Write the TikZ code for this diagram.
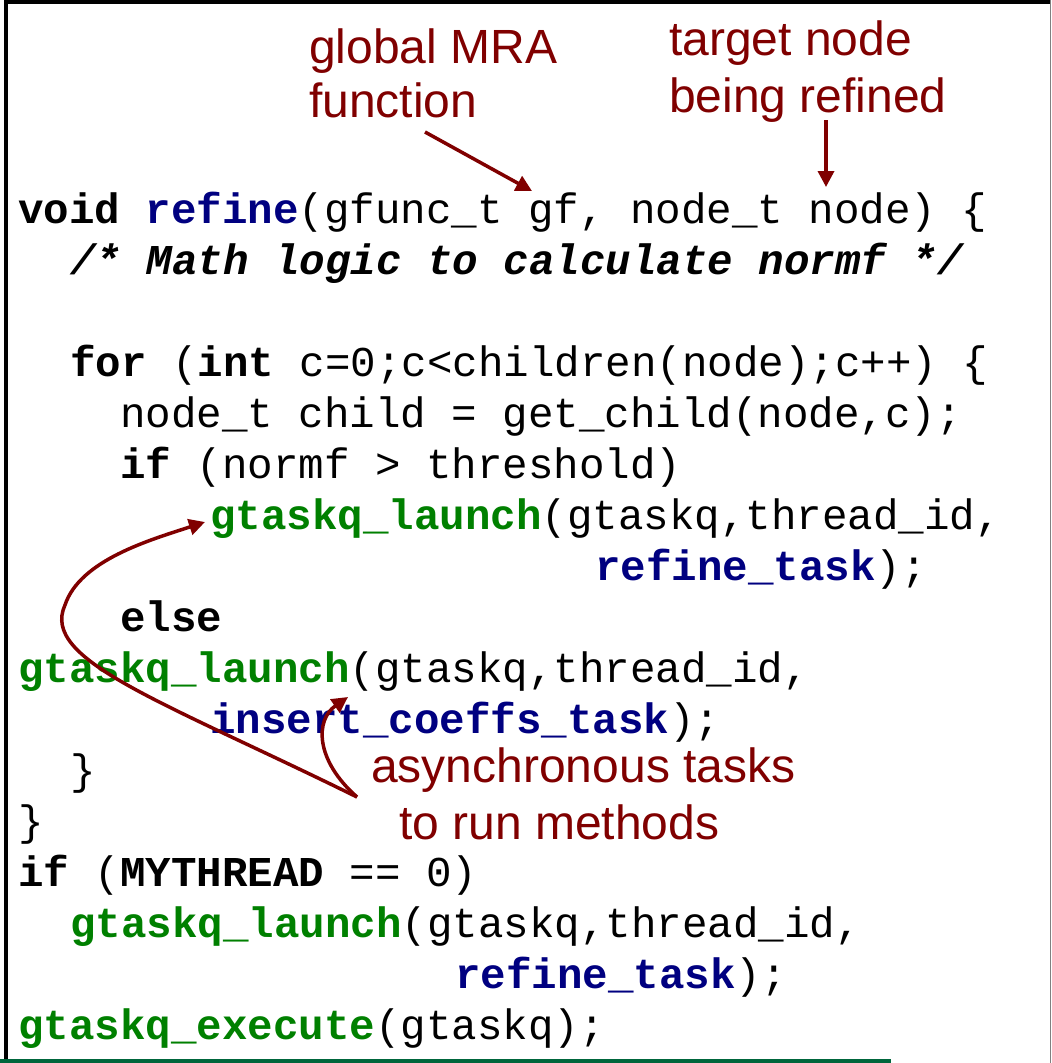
\documentclass[tikz,border=0pt]{standalone}
\usepackage{fontspec}
\usetikzlibrary{arrows.meta}
\newfontfamily\codefont{Liberation Mono}
\newfontfamily\notefont{Liberation Sans}
\definecolor{kwblue}{RGB}{0,0,128}
\definecolor{kwgreen}{RGB}{0,128,0}
\definecolor{notered}{RGB}{128,0,0}
\definecolor{bargreen}{RGB}{0,102,60}
\newcommand{\kw}[1]{\textbf{#1}}
\newcommand{\fnname}[1]{\textcolor{kwblue}{\bfseries #1}}
\newcommand{\gq}[1]{\textcolor{kwgreen}{\bfseries #1}}

\begin{document}
\begin{tikzpicture}[x=1pt,y=-1pt,
  code/.style={anchor=base west,inner sep=0pt,font=\codefont\fontsize{42.5}{51}\selectfont},
  note/.style={anchor=base west,inner sep=0pt,text=notered,font=\notefont\fontsize{48}{55}\selectfont},
  pointer/.style={draw=notered,line width=3.5pt,-{Triangle[length=16pt,width=16pt]}}]
  \useasboundingbox (0,0) rectangle (1052,1063);
  \draw[line width=3.5pt] (6,1063) -- (6,1.75) -- (1050,1.75);
  \draw[gray,line width=1.5pt] (1050.5,0) -- (1050.5,1063);
  \draw[bargreen,line width=4pt] (0,1061) -- (891,1061);
  \node[code] (l1) at (18,223) {\kw{void} \fnname{refine}(gfunc\_t gf, node\_t node) \{};
  \node[code] (l2) at (70,274) {\bfseries\itshape /* Math logic to calculate normf */};
  \node[code] (l4) at (70,376) {\kw{for} (\kw{int} c=0;c<children(node);c++) \{};
  \node[code] (l5) at (120,427) {node\_t child = get\_child(node,c);};
  \node[code] (l6) at (120,478) {\kw{if} (normf > threshold)};
  \node[code] (l7) at (210,529) {\gq{gtaskq\_launch}(gtaskq,thread\_id,};
  \node[code] (l8) at (595,580) {\fnname{refine\_task});};
  \node[code] (l9) at (120,631) {\kw{else}};
  \node[code] (l10) at (18,682) {\gq{gtaskq\_launch}(gtaskq,thread\_id,};
  \node[code] (l11) at (210,733) {\fnname{insert\_coeffs\_task});};
  \node[code] (l12) at (70,784) {\}};
  \node[code] (l13) at (18,835) {\}};
  \node[code] (l14) at (18,886) {\kw{if} (\kw{MYTHREAD} == 0)};
  \node[code] (l15) at (70,937) {\gq{gtaskq\_launch}(gtaskq,thread\_id,};
  \node[code] (l16) at (455,988) {\fnname{refine\_task});};
  \node[code] (l17) at (18,1039) {\gq{gtaskq\_execute}(gtaskq);};
  \node[note] (mra1) at (309,63) {global MRA};
  \node[note] (mra2) at (309,117) {function};
  \node[note] (tgt1) at (669,55) {target node};
  \node[note] (tgt2) at (669,112) {being refined};
  \node[note] (async1) at (371,782) {asynchronous tasks};
  \node[note] (async2) at (399,839) {to run methods};
  \coordinate (mra-tail) at (425,132);
  \coordinate (gf-tip) at (532,191);
  \coordinate (tgt-tail) at (826,120);
  \coordinate (node-tip) at (826,187);
  \coordinate (async-tail) at (357,797);
  \coordinate (bend) at (65,605);
  \coordinate (launch-tip) at (205,522);
  \coordinate (insert-tip) at (348,697);
  \draw[pointer] (mra-tail) -- (gf-tip);
  \draw[pointer] (tgt-tail) -- (node-tip);
  \draw[pointer] (async-tail) .. controls (160,700) and (40,660) .. (bend)
    .. controls (80,560) and (150,540) .. (launch-tip);
  \draw[pointer] (async-tail) .. controls (315,760) and (315,720) .. (insert-tip);
\end{tikzpicture}
\end{document}
